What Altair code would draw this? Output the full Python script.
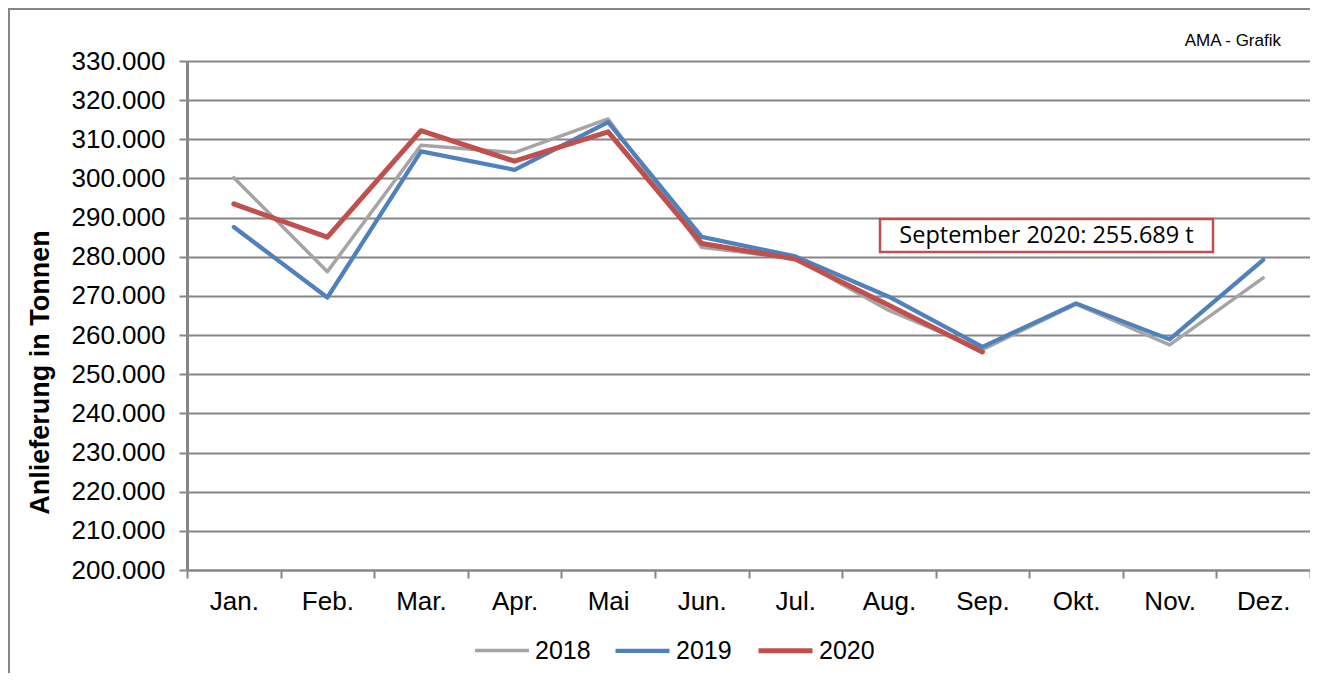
import altair as alt
import pandas as pd

months = ["Jan.", "Feb.", "Mar.", "Apr.", "Mai", "Jun.", "Jul.", "Aug.", "Sep.", "Okt.", "Nov.", "Dez."]
years = ["2018", "2019", "2020"]
v2018 = [300200, 276200, 308500, 306600, 315200, 282400, 279600, 266300, 256300, 267900, 257500, 274600]
v2019 = [287600, 269600, 306900, 302200, 314400, 285100, 280100, 269800, 257000, 268100, 258900, 279200]
v2020 = [293500, 285000, 312200, 304400, 311900, 283400, 279400, 267600, 255689]
colors = ["#A5A5A5", "#4F81BD", "#C0504D"]
widths = [3.5, 5, 5]
y_ticks = list(range(200000, 330001, 10000))
annotation = "September 2020: 255.689 t"
source_note = "AMA - Grafik"
y_title = "Anlieferung in Tonnen"

rows = []
for year, vals in zip(years, [v2018, v2019, v2020]):
    for m, v in zip(months, vals):
        rows.append({"Monat": m, "Jahr": year, "Wert": v})
df = pd.DataFrame(rows)

W, H = 1123, 509
GRAY = "#868686"
FONT = "Liberation Sans"

frame = alt.Chart(pd.DataFrame({"k": [0]})).mark_rect(
    fill="white", fillOpacity=0, stroke=GRAY, strokeWidth=2
).encode(
    x=alt.value(-178), x2=alt.value(W + 1), y=alt.value(-52), y2=alt.value(640)
)

lines = alt.Chart(df).mark_line(strokeCap="round", strokeJoin="round").encode(
    x=alt.X(
        "Monat:N", sort=months,
        scale=alt.Scale(type="band", paddingInner=0, paddingOuter=0),
        axis=alt.Axis(
            title=None, tickBand="extent", grid=False,
            domainColor=GRAY, domainWidth=2, tickColor=GRAY, tickWidth=2, tickSize=8,
            labelFont=FONT, labelFontSize=26, labelColor="black", labelPadding=10,
            labelAngle=0,
        ),
    ),
    y=alt.Y(
        "Wert:Q",
        scale=alt.Scale(domain=[200000, 330000], nice=False, zero=False),
        axis=alt.Axis(
            values=y_ticks,
            labelExpr="replace(format(datum.value, ','), ',', '.')",
            title=y_title, titleFont=FONT, titleFontSize=27, titleFontWeight="bold",
            titleColor="black", titleAngle=-90, titleX=-147, titleY=311,
            titleAlign="center", titleBaseline="middle",
            domainColor=GRAY, domainWidth=3, tickColor=GRAY, tickWidth=2, tickSize=8,
            grid=True, gridColor=GRAY, gridWidth=2,
            labelFont=FONT, labelFontSize=26, labelColor="black", labelPadding=14,
        ),
    ),
    color=alt.Color(
        "Jahr:N", scale=alt.Scale(domain=years, range=colors),
        legend=alt.Legend(
            title=None, orient="none", legendX=286, legendY=560, direction="horizontal",
            symbolType="stroke", symbolSize=2916, symbolStrokeWidth=5,
            labelFont=FONT, labelFontSize=25, labelColor="black", labelOffset=4,
            columnPadding=16, padding=0,
        ),
    ),
    strokeWidth=alt.StrokeWidth(
        "Jahr:N", scale=alt.Scale(domain=years, range=widths), legend=None
    ),
)

box = alt.Chart(pd.DataFrame({"t": [annotation]})).mark_rect(
    fill="white", stroke="#C0504D", strokeWidth=2.5
).encode(
    x=alt.value(693), x2=alt.value(1026), y=alt.value(158), y2=alt.value(191)
)

box_text = alt.Chart(pd.DataFrame({"t": [annotation]})).mark_text(
    font="Open Sans", fontSize=23.5, color="black", align="center", baseline="middle"
).encode(
    x=alt.value(859.5), y=alt.value(174.5), text="t:N"
)

note = alt.Chart(pd.DataFrame({"t": [source_note]})).mark_text(
    font=FONT, fontSize=17, color="black", align="right", baseline="alphabetic"
).encode(
    x=alt.value(1094), y=alt.value(-15), text="t:N"
)

chart = alt.layer(frame, lines, box, box_text, note).properties(
    width=W, height=H,
    autosize=alt.AutoSizeParams(type="none"),
    padding={"left": 179, "top": 53, "right": 0, "bottom": 103},
).configure_view(
    stroke=GRAY, strokeWidth=2
).configure(background="white")

chart.save("out.html", embed_options={"renderer": "svg", "actions": False})
